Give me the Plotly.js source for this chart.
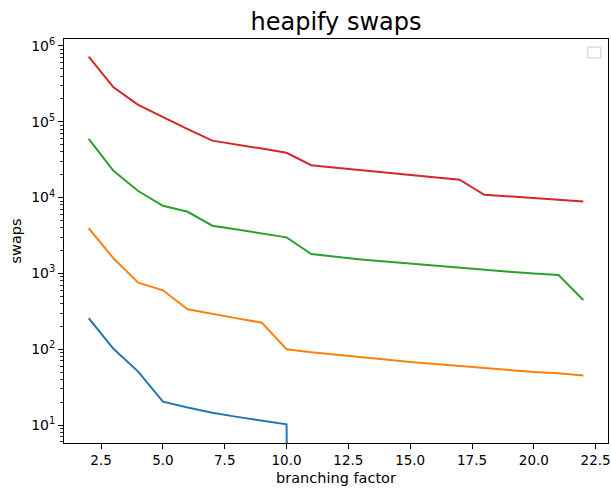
<!DOCTYPE html>
<html>
<head>
<meta charset="utf-8">
<script src="https://cdn.plot.ly/plotly-3.0.1.min.js"></script>
<style>html,body{margin:0;padding:0;background:#fff;}#chart{width:611px;height:491px;}</style>
</head>
<body>
<div id="chart"></div>
<script>
const branching = [2,3,4,5,6,7,8,9,10,11,12,13,14,15,16,17,18,19,20,21,22];
const swapsBlue   = [256,101,50.6,20.3,17,14.5,12.8,11.4,10.2,0,0,0,0,0,0,0,0,0,0,0,0];
const swapsOrange = [3940,1580,753,598,336,290,255,224,100,91,84,78,73,68,64,60,56,53,50,48,45];
const swapsGreen  = [59300,22600,12200,7800,6500,4260,3790,3370,2990,1800,1650,1530,1430,1340,1260,1180,1110,1050,1000,953,446];
const swapsRed    = [722000,285000,167000,115000,80000,56400,50300,44300,39000,26700,24800,23000,21400,19900,18500,17200,10900,10400,9850,9370,8900];
const seriesColors = ['#1f77b4','#ff7f0e','#2ca02c','#d62728'];
const xTickVals = [2.5,5,7.5,10,12.5,15,17.5,20,22.5];
const yTickVals = [10,100,1000,10000,100000,1000000];
const yTickText = ['10<sup>1</sup>','10<sup>2</sup>','10<sup>3</sup>','10<sup>4</sup>','10<sup>5</sup>','10<sup>6</sup>'];

// matplotlib log scale clips non-positive values to a tiny positive number
const clipLog = arr => arr.map(v => v > 0 ? v : 1e-30);

const allSeries = [swapsBlue, swapsOrange, swapsGreen, swapsRed];
const traces = allSeries.map((s, i) => ({
  x: branching, y: clipLog(s), type: 'scatter', mode: 'lines',
  line: {color: seriesColors[i], width: 2}, showlegend: false, hoverinfo: 'skip'
}));

const font = {family: 'DejaVu Sans, sans-serif', color: '#000'};
const layout = {
  width: 611, height: 491,
  margin: {l: 64, r: 3, t: 39, b: 48, pad: 0},
  paper_bgcolor: '#fff', plot_bgcolor: '#fff',
  font: Object.assign({size: 13.5}, font),
  showlegend: false,
  title: {text: 'heapify swaps', font: Object.assign({size: 24}, font), x: 0.5, xref: 'paper', xanchor: 'center', y: 0.957, yanchor: 'middle'},
  xaxis: {
    range: [1, 23], tickvals: xTickVals, tickformat: '.1f',
    showgrid: false, zeroline: false, showline: true, mirror: true, linecolor: '#000', linewidth: 1,
    ticks: 'outside', ticklen: 5, tickwidth: 1, tickcolor: '#000',
    ticklabeloverflow: 'allow',
    tickfont: Object.assign({size: 13.5}, font),
    title: {text: 'branching factor', font: Object.assign({size: 14.5}, font), standoff: 5}
  },
  yaxis: {
    type: 'log', range: [0.7625, 6.092], tickvals: yTickVals, ticktext: yTickText,
    showgrid: false, zeroline: false, showline: true, mirror: true, linecolor: '#000', linewidth: 1,
    ticks: 'outside', ticklen: 5, tickwidth: 1, tickcolor: '#000',
    ticklabeloverflow: 'allow',
    tickfont: Object.assign({size: 14}, font),
    minor: {ticks: 'outside', ticklen: 3, tickwidth: 0.8, tickcolor: '#000', dtick: 'D1', showgrid: false},
    title: {text: 'swaps', font: Object.assign({size: 14.5}, font), standoff: 6}
  },
  shapes: [{
    type: 'rect', xref: 'paper', yref: 'paper',
    x0: 0.963, x1: 0.987, y0: 0.953, y1: 0.980,
    line: {color: '#cccccc', width: 1}, fillcolor: 'rgba(255,255,255,0.8)'
  }]
};

Plotly.newPlot('chart', traces, layout, {displayModeBar: false, staticPlot: true});
</script>
</body>
</html>
